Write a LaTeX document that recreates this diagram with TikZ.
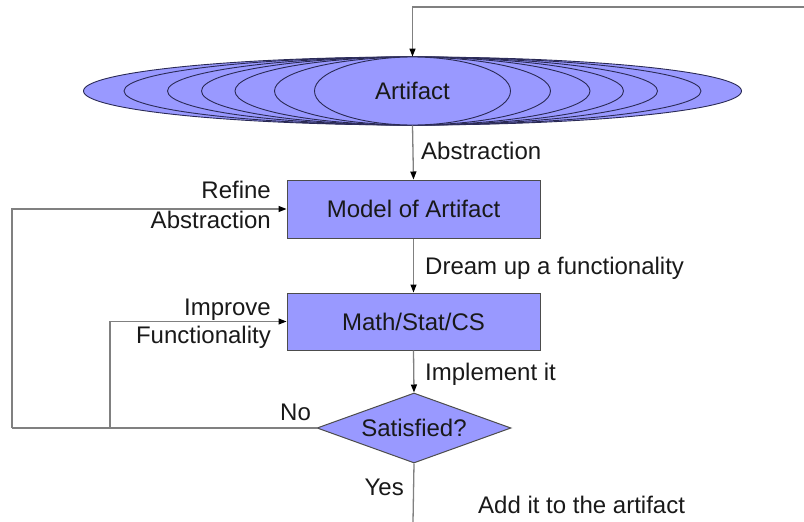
\documentclass[tikz,border=0pt]{standalone}
\usepackage{fontspec}
\setmainfont{Liberation Sans}
\usetikzlibrary{shapes.geometric,arrows.meta}
\definecolor{fillblue}{HTML}{9999FF}
\definecolor{linegray}{HTML}{808080}
\definecolor{edgedark}{HTML}{2A2A55}
\begin{document}
\begin{tikzpicture}[x=1pt,y=-1pt,
  every node/.style={font=\fontsize{24}{30}\selectfont, text=black!90},
  ell/.style={ellipse, draw=edgedark, line width=0.9pt, fill=fillblue, inner sep=0pt, minimum height=68pt},
  procbox/.style={rectangle, draw=black!70, line width=1pt, fill=fillblue, minimum width=253pt, minimum height=57pt, inner sep=0pt},
  decide/.style={diamond, draw=black!70, line width=1pt, fill=fillblue, minimum width=194pt, minimum height=70pt, inner sep=0pt, aspect=2.77},
  conn/.style={draw=linegray, line width=1.3pt},
  arr/.style={conn, -{Triangle[length=8pt,width=6pt,color=black]}},
  lbl/.style={inner sep=0pt}
]
\useasboundingbox (0,0) rectangle (804,522);
% Artifact (nested ellipses)
\node[ell, minimum width=658pt] (art) at (412.5,91) {};
\node[ell, minimum width=577pt] (e2) at (412.5,91) {};
\node[ell, minimum width=490pt] (e3) at (412.5,91) {};
\node[ell, minimum width=422pt] (e4) at (412.5,91) {};
\node[ell, minimum width=355pt] (e5) at (412.5,91) {};
\node[ell, minimum width=276pt] (e6) at (412.5,91) {};
\node[ell, minimum width=196pt] (e7) at (412.5,91) {Artifact};
% boxes
\node[procbox, minimum height=58pt] (model) at (413.5,209) {Model of Artifact};
\node[procbox] (math) at (413.5,321.5) {Math/Stat/CS};
\node[decide] (sat) at (414,428) {Satisfied?};
% coordinates
\coordinate (tr) at (804,7);
\coordinate (bot) at (413,522);
\coordinate (lo) at (12,428);
\coordinate (li) at (110,428);
% connectors
\draw[arr] (tr) -| (art.north);
\draw[arr] (art.south) -- (model.north);
\draw[arr] (model.south) -- (math.north);
\draw[arr] (math.south) -- (sat.north);
\draw[conn] (sat.south) -- (bot);
\draw[conn] (sat.west) -- (lo);
\draw[arr] (lo) |- (model.west);
\draw[arr] (li) |- (math.west);
% labels
\node[lbl, anchor=base west] (l1) at (421,159) {Abstraction};
\node[lbl, anchor=base east] (l2) at (271,198) {Refine};
\node[lbl, anchor=base east] (l3) at (271,228) {Abstraction};
\node[lbl, anchor=base west] (l4) at (425,274) {Dream up a functionality};
\node[lbl, anchor=base east] (l5) at (271,315) {Improve};
\node[lbl, anchor=base east] (l6) at (271,343) {Functionality};
\node[lbl, anchor=base west] (l7) at (425,380) {Implement it};
\node[lbl, anchor=base west] (l8) at (280,420) {No};
\node[lbl, anchor=base east] (l9) at (404,495) {Yes};
\node[lbl, anchor=base west] (l10) at (478,513) {Add it to the artifact};
\end{tikzpicture}
\end{document}
